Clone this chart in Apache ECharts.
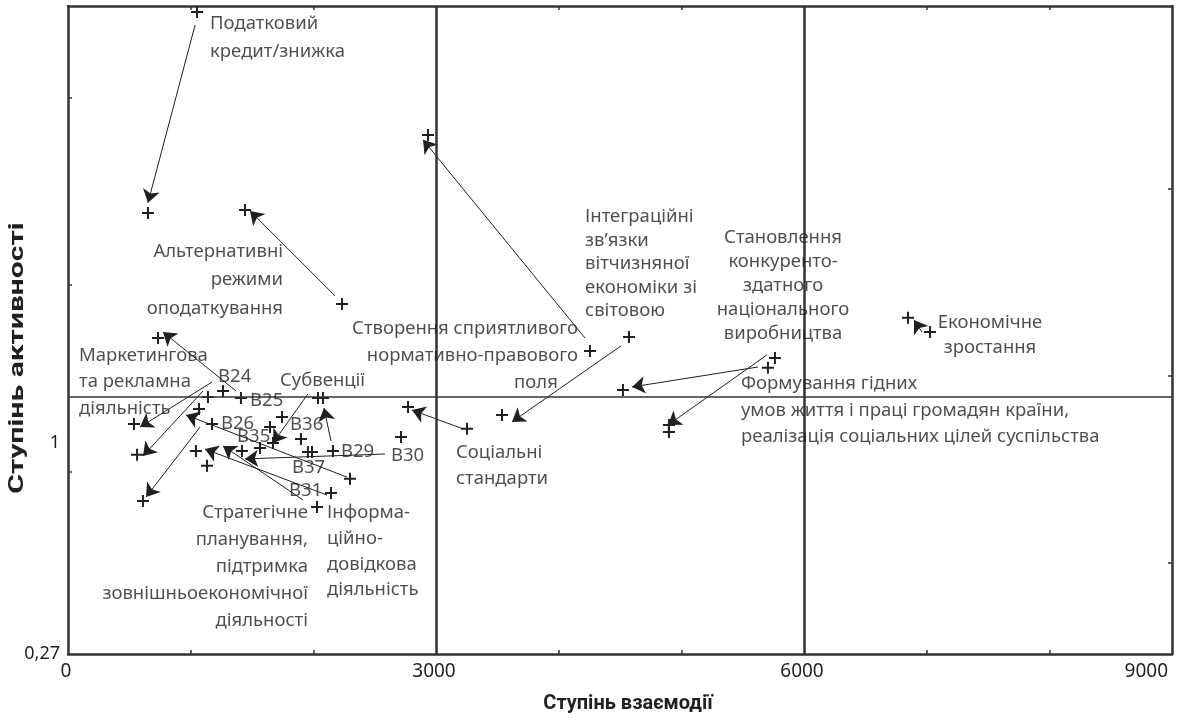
<!DOCTYPE html>
<html>
<head>
<meta charset="utf-8">
<script src="https://cdn.jsdelivr.net/npm/echarts@6/dist/echarts.min.js"></script>
<style>
  html, body { margin: 0; padding: 0; background: #fff; }
  #chart { width: 1185px; height: 719px; }
</style>
</head>
<body>
<div id="chart"></div>
<script>
// points (+) — ступінь взаємодії / ступінь активності
const pointX = [1052, 652, 1443, 2234, 2935, 4255, 4573, 3538, 3253, 2772, 2715, 4524, 4899, 4899, 5763, 5706, 6848, 7027,
  734, 1141, 1264, 1410, 1068, 538, 1174, 563, 1043, 1133, 611, 1418, 1565, 1647, 1745, 1671, 1899, 1956, 1989, 2160, 2038, 2079, 2299, 2144, 2030]
const pointY = [2.491, 1.796, 1.806, 1.481, 2.066, 1.318, 1.367, 1.097, 1.049, 1.125, 1.021, 1.183, 1.062, 1.038, 1.294, 1.260, 1.433, 1.384,
  1.363, 1.159, 1.180, 1.156, 1.118, 1.066, 1.066, 0.959, 0.972, 0.921, 0.799, 0.972, 0.983, 1.055, 1.090, 1.000, 1.014, 0.969, 0.969, 0.972, 1.156, 1.156, 0.876, 0.827, 0.779]

// arrows: from -> to
const arrowFrom = [[1036, 2.446], [2177, 1.509], [4215, 1.363], [4508, 1.336], [5698, 1.305], [5625, 1.263], [6962, 1.384], [3220, 1.049],
  [1370, 1.180], [1174, 1.211], [1101, 1.180], [1076, 1.055], [2274, 0.882], [2584, 0.962], [2111, 0.820], [1916, 0.803], [1956, 1.170], [2144, 1.007]]
const arrowTo = [[652, 1.831], [1484, 1.803], [2894, 2.049], [3619, 1.073], [4891, 1.062], [4598, 1.194], [6897, 1.426], [2804, 1.114],
  [774, 1.384], [587, 1.055], [611, 0.955], [636, 0.813], [962, 1.097], [1443, 0.945], [1117, 0.979], [1264, 0.990], [1671, 1.000], [2087, 1.121]]

// reference lines
const vLines = [3000, 6000]
const hLine = 1.163

// axis ticks / labels
const xLabels = [0, 3000, 6000, 9000]
const xTicks = [1000, 2000, 4000, 5000, 7000, 8000]
const yLabels = [0.27, 1]
const yTicksLeft = [0.900, 1.547, 2.194]
const yTicksRight = [0.585, 1.232, 1.879]

// annotations
const noteText = [
  'Податковий\nкредит/знижка',
  'Альтернативні\nрежими\nоподаткування',
  'Створення сприятливого\nнормативно-правового',
  'поля',
  'Інтеграційні\nзв’язки\nвітчизняної\nекономіки зі\nсвітовою',
  'Становлення\nконкуренто-\nздатного\nнаціонального\nвиробництва',
  'Економічне\nзростання',
  'Формування гідних\nумов життя і праці громадян країни,\nреалізація соціальних цілей суспільства',
  'Соціальні\nстандарти',
  'Маркетингова\nта рекламна\nдіяльність',
  'Субвенції',
  'Стратегічне\nпланування,\nпідтримка\nзовнішньоекономічної\nдіяльності',
  'Інформа-\nційно-\nдовідкова\nдіяльність',
  'В24', 'В25', 'В26', 'В35', 'В36', 'В29', 'В30', 'В37', 'В31'
]
const noteAt = [[1158, 2.401], [1753, 1.564], [4158, 1.348], [3815, 1.208], [4215, 1.619], [5829, 1.545], [7516, 1.372], [5486, 1.112],
  [3163, 0.921], [90, 1.212], [1728, 1.215], [1956, 0.573], [2111, 0.625],
  [1223, 1.228], [1484, 1.145], [1247, 1.066], [1378, 1.021], [1810, 1.062], [2225, 0.969], [2633, 0.955], [1826, 0.914], [1802, 0.834]]
const noteAlign = ['left', 'right', 'right', 'center', 'left', 'center', 'center', 'left', 'left', 'left', 'left', 'right', 'left',
  'left', 'left', 'left', 'left', 'left', 'left', 'left', 'left', 'left']
const noteLineHeight = [28, 28.5, 27, 27, 23.5, 24, 25, 26.5, 26, 26.5, 27, 27, 25.7, 20, 20, 20, 20, 20, 20, 20, 20, 20]

const ink = '#231f20'
const font = 'Noto Sans'
const titleFont = 'Roboto'
const plus = 'path://M5,0H7V5H12V7H7V12H5V7H0V5H5Z'

const chart = echarts.init(document.getElementById('chart'))

const axisBase = {
  type: 'value',
  axisLine: { show: true, onZero: false, lineStyle: { color: '#333', width: 2.5 } },
  axisTick: { show: true, inside: true, length: 4, lineStyle: { color: '#333', width: 1.5 } },
  splitLine: { show: false }
}

chart.setOption({
  animation: false,
  backgroundColor: '#fff',
  grid: { left: 68, right: 13, top: 6, bottom: 65 },
  xAxis: [
    Object.assign({}, axisBase, {
      position: 'bottom', min: 0, max: 9000,
      axisTick: Object.assign({}, axisBase.axisTick, { customValues: xTicks }),
      axisLabel: {
        customValues: xLabels, color: ink, fontFamily: font, fontSize: 19, margin: 8, alignMaxLabel: 'right',
        padding: [0, 4, 0, 0],
        formatter: v => String(v)
      },
      name: 'Ступінь взаємодії', nameLocation: 'middle', nameGap: 40,
      nameTextStyle: { color: ink, fontFamily: titleFont, fontWeight: 'bold', fontSize: 20, padding: [0, 0, 0, 16] }
    }),
    Object.assign({}, axisBase, {
      position: 'top', min: 0, max: 9000,
      axisTick: Object.assign({}, axisBase.axisTick, { customValues: xTicks }),
      axisLabel: { show: false }
    })
  ],
  yAxis: [
    Object.assign({}, axisBase, {
      position: 'left', min: 0.27, max: 2.512,
      axisTick: Object.assign({}, axisBase.axisTick, { customValues: yTicksLeft }),
      axisLabel: {
        customValues: yLabels, color: ink, fontFamily: font, fontSize: 18, margin: 8,
        formatter: v => String(v).replace('.', ',')
      }
    }),
    Object.assign({}, axisBase, {
      position: 'right', min: 0.27, max: 2.512,
      axisTick: Object.assign({}, axisBase.axisTick, { customValues: yTicksRight }),
      axisLabel: { show: false }
    })
  ],
  graphic: [{
    type: 'text', x: 18, y: 358, rotation: Math.PI / 2, scaleX: 1.5,
    style: {
      text: 'Ступінь активності', fill: ink, font: 'bold 20px Roboto',
      align: 'center', verticalAlign: 'middle'
    }
  }],
  series: [
    {
      type: 'lines',
      coordinateSystem: 'cartesian2d',
      silent: true,
      symbol: ['none', 'arrow'],
      symbolSize: 13,
      lineStyle: { color: ink, width: 1, opacity: 1, curveness: 0 },
      data: arrowFrom.map((f, i) => ({ coords: [f, arrowTo[i]] })),
      z: 3
    },
    {
      type: 'scatter',
      symbol: plus,
      symbolSize: 12,
      itemStyle: { color: ink, opacity: 1 },
      data: pointX.map((x, i) => [x, pointY[i]]),
      markLine: {
        silent: true,
        symbol: ['none', 'none'],
        label: { show: false },
        data: [
          ...vLines.map(v => ({ xAxis: v, lineStyle: { color: '#333', width: 2.5, type: 'solid' } })),
          { yAxis: hLine, lineStyle: { color: '#333', width: 1.5, type: 'solid' } }
        ]
      },
      z: 4
    },
    {
      type: 'scatter',
      silent: true,
      symbolSize: 0,
      data: noteText.map((t, i) => ({
        value: noteAt[i],
        name: t,
        label: { align: noteAlign[i], lineHeight: noteLineHeight[i] }
      })),
      label: {
        show: true,
        position: [0, 0],
        verticalAlign: 'middle',
        formatter: p => p.name,
        color: ink,
        fontFamily: font,
        fontSize: 18.5
      },
      z: 5
    }
  ]
})

window.addEventListener('resize', () => chart.resize())
</script>
</body>
</html>
